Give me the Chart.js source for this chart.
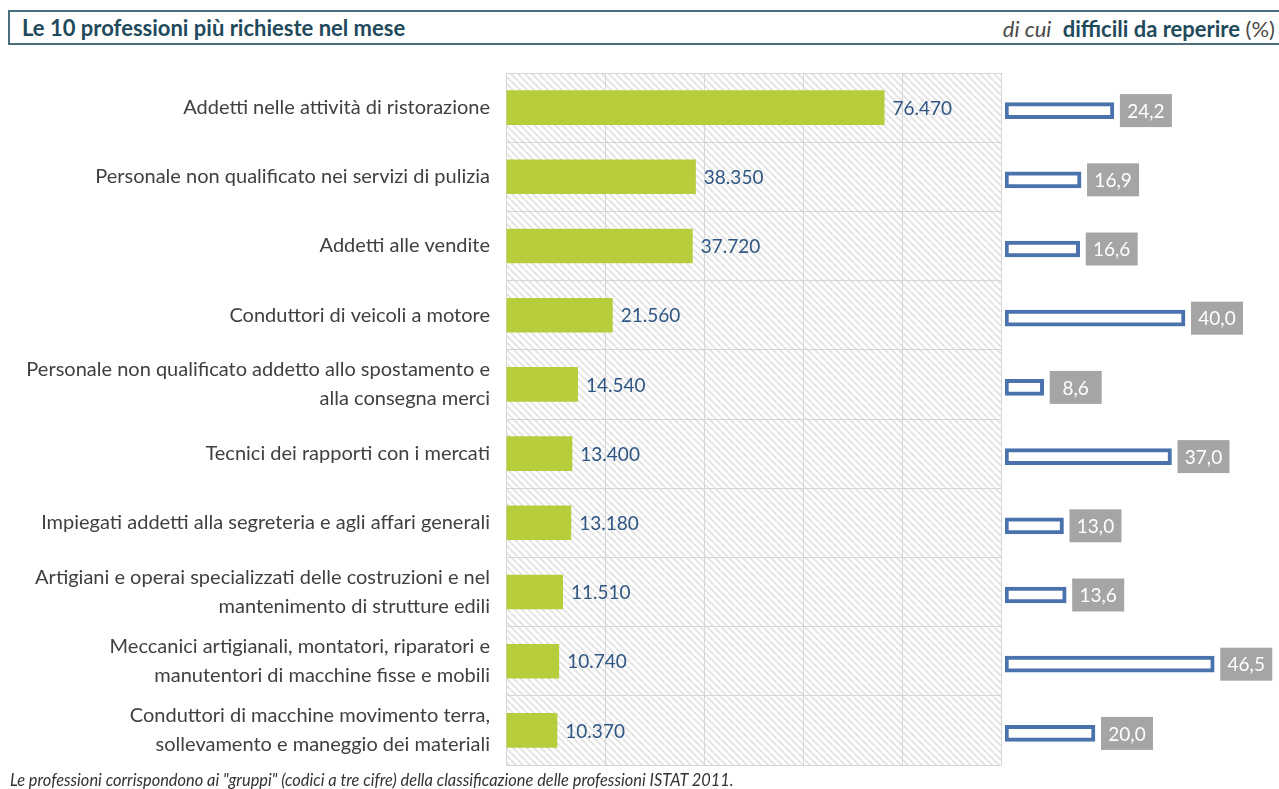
<!DOCTYPE html>
<html lang="it">
<head>
<meta charset="utf-8">
<script src="https://cdn.jsdelivr.net/npm/chart.js@4.4.1/dist/chart.umd.min.js"></script>
<style>
  html, body { margin: 0; padding: 0; background: #fff; }
  body { width: 1279px; height: 789px; position: relative; overflow: hidden; font-family: Lato, sans-serif; }
  #titolo {
    position: absolute; left: 8px; top: 10px; width: 1290px; height: 31px;
    border: 2px solid #4b6f7d;
  }
  #titolo .sx { position: absolute; left: 12px; top: 2px; font-weight: bold; font-size: 22px; color: #1f4a5c; }
  #dx { position: absolute; right: 4px; top: 15px; font-size: 22px; color: #1f4a5c; white-space: nowrap; }
  #dx i { color: #4a4a4a; }
  #dx span { color: #4a4a4a; }
  #wrapSx { position: absolute; left: 0; top: 60px; width: 1005px; height: 715px; }
  #wrapDx { position: absolute; left: 1000px; top: 63px; width: 279px; height: 715px; }
  #nota { position: absolute; left: 10px; top: 770px; font-style: italic; font-size: 16.4px; color: #333; white-space: nowrap; }
</style>
</head>
<body>
<div id="titolo">
  <div class="sx">Le 10 professioni più richieste nel mese</div>
</div>
<div id="dx"><i>di cui</i>&nbsp; <b>difficili da reperire</b> <span>(%)</span></div>
<div id="wrapSx"><canvas id="chartSx"></canvas></div>
<div id="wrapDx"><canvas id="chartDx"></canvas></div>
<div id="nota">Le professioni corrispondono ai "gruppi" (codici a tre cifre) della classificazione delle professioni ISTAT 2011.</div>

<script>
const professioni = [
  'Addetti nelle attività di ristorazione',
  'Personale non qualificato nei servizi di pulizia',
  'Addetti alle vendite',
  'Conduttori di veicoli a motore',
  ['Personale non qualificato addetto allo spostamento e', 'alla consegna merci'],
  'Tecnici dei rapporti con i mercati',
  'Impiegati addetti alla segreteria e agli affari generali',
  ['Artigiani e operai specializzati delle costruzioni e nel', 'mantenimento di strutture edili'],
  ['Meccanici artigianali, montatori, riparatori e', 'manutentori di macchine fisse e mobili'],
  ['Conduttori di macchine movimento terra,', 'sollevamento e maneggio dei materiali']
];
const entrate = [76470, 38350, 37720, 21560, 14540, 13400, 13180, 11510, 10740, 10370];
const difficili = [24.2, 16.9, 16.6, 40.0, 8.6, 37.0, 13.0, 13.6, 46.5, 20.0];
const xMaxSx = 100000;
const xStepSx = 20000;
const xMaxDx = 60;

Chart.defaults.font.family = 'Lato, sans-serif';
Chart.defaults.animation = false;

// sfondo a righe diagonali dell'area del grafico
function makeHatch() {
  const s = 7;
  const c = document.createElement('canvas');
  c.width = s; c.height = s;
  const g = c.getContext('2d');
  g.fillStyle = '#fff';
  g.fillRect(0, 0, s, s);
  g.strokeStyle = '#e4e4e4';
  g.lineWidth = 2;
  for (const x0 of [-s, 0, s]) {
    g.beginPath();
    g.moveTo(x0, 0);
    g.lineTo(x0 + s, s);
    g.stroke();
  }
  return c;
}

const hatchPlugin = {
  id: 'hatch',
  beforeDraw(chart) {
    const { ctx, chartArea: a } = chart;
    ctx.save();
    ctx.fillStyle = ctx.createPattern(makeHatch(), 'repeat');
    ctx.fillRect(a.left, a.top, a.right - a.left, a.bottom - a.top);
    ctx.restore();
  }
};

const fmtIt = (v) => v.toLocaleString('it-IT');

const valoriSx = {
  id: 'valoriSx',
  afterDatasetsDraw(chart) {
    const { ctx } = chart;
    const meta = chart.getDatasetMeta(0);
    ctx.save();
    ctx.font = '19px Lato, sans-serif';
    ctx.fillStyle = '#2f5684';
    ctx.textBaseline = 'middle';
    meta.data.forEach((el, i) => {
      ctx.fillText(fmtIt(entrate[i]), el.x + 8, el.y + 1);
    });
    ctx.restore();
  }
};

const valoriDx = {
  id: 'valoriDx',
  afterDatasetsDraw(chart) {
    const { ctx } = chart;
    const meta = chart.getDatasetMeta(0);
    ctx.save();
    ctx.font = '19px Lato, sans-serif';
    ctx.textBaseline = 'middle';
    ctx.textAlign = 'center';
    meta.data.forEach((el, i) => {
      const w = 52, h = 33;
      const x = el.x + 6;
      ctx.fillStyle = '#a5a5a5';
      ctx.fillRect(x, el.y - h / 2, w, h);
      ctx.fillStyle = '#fff';
      ctx.fillText(difficili[i].toFixed(1).replace('.', ','), x + w / 2, el.y + 1);
    });
    ctx.restore();
  }
};

new Chart(document.getElementById('chartSx'), {
  type: 'bar',
  data: {
    labels: professioni,
    datasets: [{ data: entrate, backgroundColor: '#b7cd3c', categoryPercentage: 1, barPercentage: 0.5 }]
  },
  options: {
    indexAxis: 'y',
    responsive: true,
    maintainAspectRatio: false,
    layout: { padding: { top: 13, bottom: 10, left: 0, right: 4 } },
    plugins: { legend: { display: false }, tooltip: { enabled: false } },
    scales: {
      x: {
        min: 0, max: xMaxSx,
        ticks: { display: false, stepSize: xStepSx },
        grid: { color: '#d6d6d6', drawTicks: false },
        border: { display: false }
      },
      y: {
        afterFit(scale) {
          scale.width = 506;
          scale.paddingTop = 0;
          scale.paddingBottom = 0;
        },
        ticks: { color: '#404040', font: { size: 20, lineHeight: 1.45 }, padding: 16 },
        grid: { color: '#d6d6d6', drawTicks: false },
        border: { display: false }
      }
    }
  },
  plugins: [hatchPlugin, valoriSx]
});

new Chart(document.getElementById('chartDx'), {
  type: 'bar',
  data: {
    labels: professioni,
    datasets: [{
      data: difficili, backgroundColor: '#fff', borderColor: '#4a73ad',
      borderWidth: 4, borderSkipped: false, barThickness: 16
    }]
  },
  options: {
    indexAxis: 'y',
    responsive: true,
    maintainAspectRatio: false,
    layout: { padding: { top: 13, bottom: 10, left: 5, right: 4 } },
    plugins: { legend: { display: false }, tooltip: { enabled: false } },
    scales: {
      x: { min: 0, max: xMaxDx, display: false },
      y: { display: false }
    }
  },
  plugins: [valoriDx]
});
</script>
</body>
</html>
